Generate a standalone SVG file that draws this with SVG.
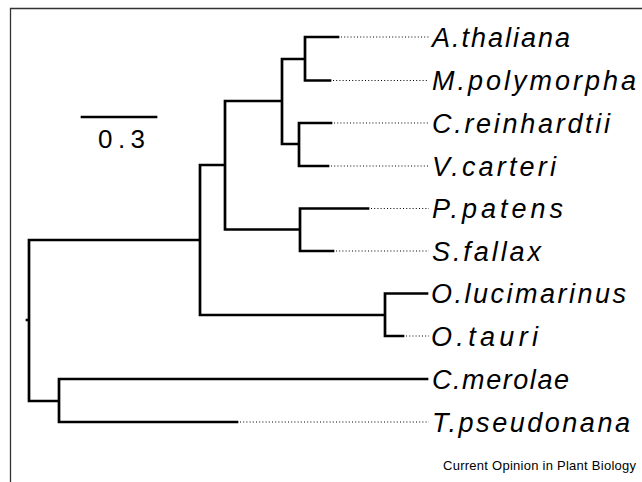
<svg xmlns="http://www.w3.org/2000/svg" width="642" height="482" viewBox="0 0 642 482">
<style>
.frame{fill:none;stroke:#333;stroke-width:1.3}
.br{fill:none;stroke:#000;stroke-width:2.7;stroke-linecap:square;stroke-linejoin:miter}
.dot{fill:none;stroke:#000;stroke-width:1.1;stroke-dasharray:1,2.2}
.lab{font-family:"Liberation Sans",Arial,sans-serif;font-style:italic;font-size:27px;fill:#000}
.sc{font-family:"Liberation Sans",Arial,sans-serif;font-size:26px;fill:#000}
.ft{font-family:"Liberation Sans",Arial,sans-serif;font-size:13px;fill:#000}
</style>
<rect width="642" height="482" fill="#fff"/>
<path class="frame" d="M10.5,482 V8.5 H642"/>
<g id="scale">
<line class="br" x1="82" y1="117" x2="156" y2="117" stroke-linecap="butt"/>
<text class="sc" x="98" y="148" textLength="47">0.3</text>
</g>
<g id="connectors">
<path class="br" d="M27,320 H29 M29,240 V401 M29,240 H200 M29,401 H59 M200,165 V315 M200,165 H225 M200,315 H385 M225,101 V229.5 M225,101 H282 M225,229.5 H300 M282,59 V144 M282,59 H305 M282,144 H299 M305,37 V80.5 M305,37 H338 M305,80.5 H330 M299,123 V166 M299,123 H331 M299,166 H328 M300,208.5 V251 M300,208.5 H368 M300,251 H333 M385,293.5 V336 M385,293.5 H427 M385,336 H403 M59,379 V422 M59,379 H427 M59,422 H237"/>
<path class="dot" d="M341,37 H429 M333,80.5 H429 M334,123 H429 M331,166 H429 M371,208.5 H429 M336,251 H429 M406,336 H429 M240,422 H429"/>
</g>
<g id="A_thaliana"><text class="lab" x="432" y="46.5" textLength="138">A.thaliana</text></g>
<g id="M_polymorpha"><text class="lab" x="432" y="90" textLength="204">M.polymorpha</text></g>
<g id="C_reinhardtii"><text class="lab" x="432" y="132.5" textLength="178">C.reinhardtii</text></g>
<g id="V_carteri"><text class="lab" x="432" y="175.5" textLength="124">V.carteri</text></g>
<g id="P_patens"><text class="lab" x="432" y="218" textLength="131">P.patens</text></g>
<g id="S_fallax"><text class="lab" x="432" y="260.5" textLength="109">S.fallax</text></g>
<g id="O_lucimarinus"><text class="lab" x="431" y="303" textLength="195">O.lucimarinus</text></g>
<g id="O_tauri"><text class="lab" x="431" y="345.5" textLength="107">O.tauri</text></g>
<g id="C_merolae"><text class="lab" x="432" y="388.5" textLength="137">C.merolae</text></g>
<g id="T_pseudonana"><text class="lab" x="432" y="431.5" textLength="198">T.pseudonana</text></g>
<text class="ft" x="443" y="470" textLength="193">Current Opinion in Plant Biology</text>
</svg>
